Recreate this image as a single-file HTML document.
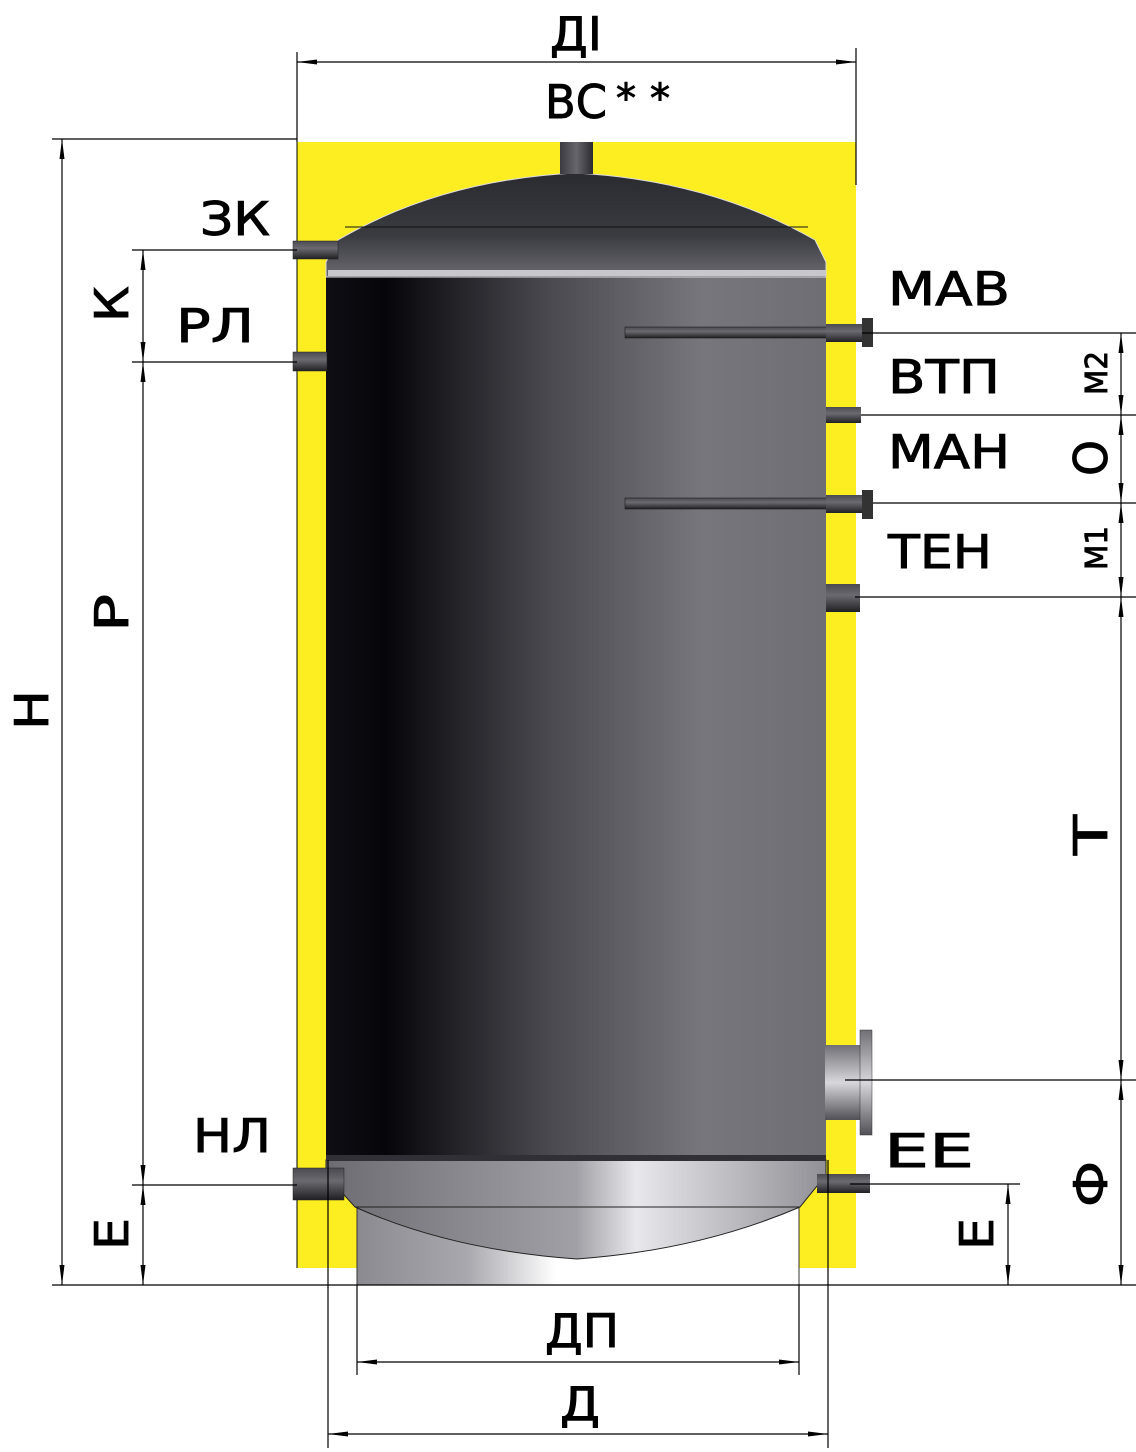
<!DOCTYPE html>
<html><head><meta charset="utf-8"><style>
html,body{margin:0;padding:0;background:#fff}
svg{display:block}
text{font-family:"DejaVu Sans","Liberation Sans",sans-serif;fill:#000;stroke:#000;stroke-width:0.9}
</style></head><body>
<svg width="1136" height="1452" viewBox="0 0 1136 1452" xmlns="http://www.w3.org/2000/svg">
<defs>
<linearGradient id="body" x1="0" x2="1" y1="0" y2="0">
<stop offset="0" stop-color="#0e0e14"/><stop offset="0.12" stop-color="#05050a"/>
<stop offset="0.45" stop-color="#4a4a50"/><stop offset="0.75" stop-color="#76767c"/>
<stop offset="1" stop-color="#6e6e74"/></linearGradient>
<linearGradient id="dome" x1="0" x2="0" y1="0" y2="1">
<stop offset="0" stop-color="#2a2b30"/><stop offset="0.6" stop-color="#3a3b40"/><stop offset="1" stop-color="#6a6a70"/></linearGradient>
<linearGradient id="bdome" x1="0" x2="1" y1="0" y2="0">
<stop offset="0" stop-color="#6c6c72"/><stop offset="0.5" stop-color="#a0a0a6"/><stop offset="0.62" stop-color="#e8e8ec"/><stop offset="1" stop-color="#909096"/></linearGradient>
<linearGradient id="skirt" x1="0" x2="1" y1="0" y2="0">
<stop offset="0" stop-color="#8a8a90"/><stop offset="0.25" stop-color="#a8a8ae"/><stop offset="0.45" stop-color="#ffffff"/><stop offset="1" stop-color="#ffffff"/></linearGradient>
<linearGradient id="pipe" x1="0" x2="0" y1="0" y2="1">
<stop offset="0" stop-color="#4a4a50"/><stop offset="0.4" stop-color="#6a6a70"/><stop offset="1" stop-color="#202024"/></linearGradient>
<linearGradient id="pipev" x1="0" x2="1" y1="0" y2="0">
<stop offset="0" stop-color="#3a3a40"/><stop offset="0.5" stop-color="#66666c"/><stop offset="1" stop-color="#2a2a30"/></linearGradient>
<linearGradient id="flange" x1="0" x2="0" y1="0" y2="1">
<stop offset="0" stop-color="#707076"/><stop offset="0.5" stop-color="#d8d8dc"/><stop offset="1" stop-color="#505056"/></linearGradient>
<marker id="a" viewBox="0 0 20 8" refX="20" refY="4" markerWidth="20" markerHeight="8" markerUnits="userSpaceOnUse" orient="auto-start-reverse">
<path d="M0,1.5 L20,4 L0,6.5 Z" fill="#000"/></marker>
</defs>

<rect x="297" y="142" width="559" height="1126" fill="#fdee21"/>
<line x1="297" y1="142" x2="297" y2="1268" stroke="#000" stroke-width="1"/>
<rect x="357" y="1205" width="442" height="80" fill="url(#skirt)" stroke="#333" stroke-width="1"/>
<path d="M326,1160 L826,1160 L826,1175 L800,1207 Q700,1250 577,1259 Q450,1250 355,1207 L326,1175 Z" fill="url(#bdome)" stroke="#222" stroke-width="1"/>
<line x1="355" y1="1207" x2="800" y2="1207" stroke="#222"/>
<rect x="326" y="275" width="500" height="886" fill="url(#body)"/>
<rect x="326" y="1155" width="500" height="6" fill="#303036"/>
<path d="M326,277 L326,262 L338,240 Q440,180 575,173 Q710,180 815,240 L826,262 L826,277 Z" fill="url(#dome)" stroke="#ddd" stroke-width="1"/>
<line x1="345" y1="227" x2="808" y2="227" stroke="#111"/>
<rect x="328" y="270" width="498" height="6" fill="#c8c8cc"/>
<rect x="560" y="142" width="33" height="32" fill="url(#pipev)"/>
<rect x="293" y="241" width="45" height="18" fill="url(#pipe)" stroke="#222" stroke-width="0.5"/>
<rect x="293" y="352" width="34" height="19" fill="url(#pipe)" stroke="#222" stroke-width="0.5"/>
<rect x="293" y="1168" width="51" height="32" fill="url(#pipe)" stroke="#222" stroke-width="0.5"/>
<rect x="625" y="327" width="202" height="11" fill="url(#pipe)" stroke="#111" stroke-width="0.5"/>
<rect x="826" y="324" width="36" height="18" fill="url(#pipe)"/>
<rect x="862" y="318" width="11" height="29" fill="#333"/>
<rect x="826" y="407" width="35" height="16" fill="url(#pipe)"/>
<rect x="625" y="498" width="202" height="11" fill="url(#pipe)" stroke="#111" stroke-width="0.5"/>
<rect x="826" y="495" width="36" height="18" fill="url(#pipe)"/>
<rect x="862" y="490" width="11" height="29" fill="#333"/>
<rect x="826" y="584" width="34" height="28" fill="url(#pipe)"/>
<rect x="825" y="1045" width="35" height="75" fill="url(#flange)"/>
<rect x="860" y="1030" width="12" height="105" fill="url(#flange)" stroke="#333" stroke-width="0.5"/>
<rect x="817" y="1174" width="53" height="19" fill="url(#pipe)"/>

<g stroke="#000" stroke-width="1.2" fill="none">
<line x1="297" y1="52" x2="297" y2="142"/>
<line x1="856" y1="48" x2="856" y2="185"/>
<line x1="297" y1="62" x2="856" y2="62" marker-start="url(#a)" marker-end="url(#a)"/>
<line x1="52" y1="139" x2="297" y2="139"/>
<line x1="62" y1="139" x2="62" y2="1285" marker-start="url(#a)" marker-end="url(#a)"/>
<line x1="52" y1="1285" x2="1136" y2="1285"/>
<line x1="132" y1="250" x2="297" y2="250"/>
<line x1="132" y1="362" x2="297" y2="362"/>
<line x1="132" y1="1185" x2="297" y2="1185"/>
<line x1="143" y1="250" x2="143" y2="362" marker-start="url(#a)" marker-end="url(#a)"/>
<line x1="143" y1="362" x2="143" y2="1185" marker-start="url(#a)" marker-end="url(#a)"/>
<line x1="143" y1="1185" x2="143" y2="1285" marker-start="url(#a)" marker-end="url(#a)"/>
<line x1="862" y1="333" x2="1136" y2="333"/>
<line x1="861" y1="415" x2="1136" y2="415"/>
<line x1="873" y1="503" x2="1136" y2="503"/>
<line x1="855" y1="597" x2="1136" y2="597"/>
<line x1="845" y1="1080" x2="1136" y2="1080"/>
<line x1="850" y1="1184" x2="1020" y2="1184"/>
<line x1="1121" y1="333" x2="1121" y2="415" marker-start="url(#a)" marker-end="url(#a)"/>
<line x1="1121" y1="415" x2="1121" y2="503" marker-start="url(#a)" marker-end="url(#a)"/>
<line x1="1121" y1="503" x2="1121" y2="597" marker-start="url(#a)" marker-end="url(#a)"/>
<line x1="1121" y1="597" x2="1121" y2="1080" marker-start="url(#a)" marker-end="url(#a)"/>
<line x1="1121" y1="1080" x2="1121" y2="1285" marker-start="url(#a)" marker-end="url(#a)"/>
<line x1="1008" y1="1184" x2="1008" y2="1285" marker-start="url(#a)" marker-end="url(#a)"/>
<line x1="357" y1="1285" x2="357" y2="1375"/>
<line x1="799" y1="1285" x2="799" y2="1375"/>
<line x1="357" y1="1362" x2="799" y2="1362" marker-start="url(#a)" marker-end="url(#a)"/>
<line x1="328" y1="1160" x2="328" y2="1448"/>
<line x1="828" y1="1160" x2="828" y2="1448"/>
<line x1="328" y1="1434" x2="828" y2="1434" marker-start="url(#a)" marker-end="url(#a)"/>
</g>

<g font-size="46">
<text x="550" y="50" textLength="52" lengthAdjust="spacingAndGlyphs">ДІ</text>
<text x="545" y="118" textLength="62" lengthAdjust="spacingAndGlyphs">ВС</text>
<text x="616" y="112" font-size="40" textLength="54" lengthAdjust="spacing">* *</text>
<text x="200" y="235" textLength="70" lengthAdjust="spacingAndGlyphs">ЗК</text>
<text x="176" y="342" textLength="78" lengthAdjust="spacingAndGlyphs">РЛ</text>
<text x="193" y="1152" textLength="78" lengthAdjust="spacingAndGlyphs">НЛ</text>
<text x="888" y="305" textLength="122" lengthAdjust="spacingAndGlyphs">МАВ</text>
<text x="888" y="393" textLength="112" lengthAdjust="spacingAndGlyphs">ВТП</text>
<text x="888" y="468" textLength="122" lengthAdjust="spacingAndGlyphs">МАН</text>
<text x="888" y="568" textLength="104" lengthAdjust="spacingAndGlyphs">ТЕН</text>
<text x="884" y="1167" textLength="90" lengthAdjust="spacingAndGlyphs">ЕЕ</text>
<text x="545" y="1347" textLength="74" lengthAdjust="spacingAndGlyphs">ДП</text>
<text x="560" y="1420" textLength="40" lengthAdjust="spacingAndGlyphs">Д</text>
<text transform="translate(128,322) rotate(-90)" textLength="36" lengthAdjust="spacingAndGlyphs">К</text>
<text transform="translate(128,632) rotate(-90)" textLength="38" lengthAdjust="spacingAndGlyphs">Р</text>
<text transform="translate(48,730) rotate(-90)" textLength="40" lengthAdjust="spacingAndGlyphs">Н</text>
<text transform="translate(128,1250) rotate(-90)" textLength="32" lengthAdjust="spacingAndGlyphs">Е</text>
<text transform="translate(993,1250) rotate(-90)" textLength="32" lengthAdjust="spacingAndGlyphs">Е</text>
<text transform="translate(1107,476) rotate(-90)" textLength="36" lengthAdjust="spacingAndGlyphs">О</text>
<text transform="translate(1107,855) rotate(-90)" textLength="40" lengthAdjust="spacingAndGlyphs">Т</text>
<text transform="translate(1107,1207) rotate(-90)" textLength="46" lengthAdjust="spacingAndGlyphs">Ф</text>
<text transform="translate(1107,395) rotate(-90)" font-size="30" textLength="44" lengthAdjust="spacingAndGlyphs">M2</text>
<text transform="translate(1107,570) rotate(-90)" font-size="30" textLength="44" lengthAdjust="spacingAndGlyphs">M1</text>
</g>
</svg>
</body></html>
